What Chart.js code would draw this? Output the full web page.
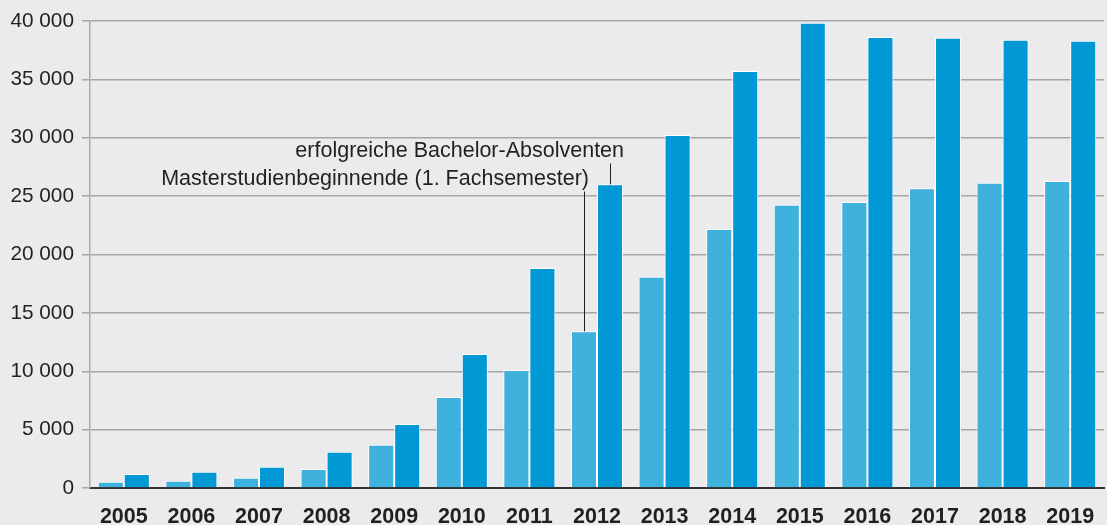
<!DOCTYPE html>
<html lang="de">
<head>
<meta charset="utf-8">
<script src="https://cdn.jsdelivr.net/npm/chart.js@4/dist/chart.umd.min.js"></script>
<style>
  html, body { margin: 0; padding: 0; background: #ebebee; }
  #wrap { width: 1107px; height: 525px; }
</style>
</head>
<body>
<div id="wrap"><canvas id="barChart"></canvas></div>
<script>
const years = ['2005', '2006', '2007', '2008', '2009', '2010', '2011', '2012', '2013', '2014', '2015', '2016', '2017', '2018', '2019'];
const masterStart = [540, 630, 880, 1630, 3700, 7800, 10100, 13420, 18100, 22180, 24270, 24500, 25670, 26150, 26300];
const bachelorGrads = [1200, 1400, 1830, 3110, 5480, 11480, 18840, 26010, 30240, 35720, 39860, 38630, 38570, 38400, 38310];
const yTicks = [0, 5000, 10000, 15000, 20000, 25000, 30000, 35000, 40000];

const labelMaster = 'Masterstudienbeginnende (1. Fachsemester)';
const labelBachelor = 'erfolgreiche Bachelor-Absolventen';

// fill the page grey behind the chart
const bgPlugin = {
    id: 'bg',
    beforeDraw(chart) {
        const ctx = chart.ctx;
        ctx.save();
        ctx.fillStyle = '#ebebee';
        ctx.fillRect(0, 0, chart.width, chart.height);
        ctx.restore();
    }
};

// leader lines from the two captions down to the 2012 bars
const calloutPlugin = {
    id: 'callout',
    afterDatasetsDraw(chart) {
        const ctx = chart.ctx;
        const y = chart.scales.y;
        const idx = years.indexOf('2012');
        const light = chart.getDatasetMeta(0).data[idx];
        const dark = chart.getDatasetMeta(1).data[idx];
        ctx.save();
        ctx.font = '21.5px "Liberation Sans", Arial, sans-serif';
        ctx.fillStyle = '#231f20';
        ctx.textAlign = 'right';
        ctx.textBaseline = 'alphabetic';
        ctx.fillText(labelBachelor, dark.x + 14, y.getPixelForValue(28350));
        ctx.fillText(labelMaster, light.x + 5, y.getPixelForValue(25950));
        ctx.strokeStyle = '#231f20';
        ctx.lineWidth = 1;
        ctx.beginPath();
        ctx.moveTo(Math.round(dark.x) + 0.5, y.getPixelForValue(27800));
        ctx.lineTo(Math.round(dark.x) + 0.5, dark.y);
        ctx.moveTo(Math.round(light.x) + 0.5, y.getPixelForValue(25400));
        ctx.lineTo(Math.round(light.x) + 0.5, light.y);
        ctx.stroke();
        ctx.restore();
    }
};

new Chart(document.getElementById('barChart'), {
    type: 'bar',
    data: {
        labels: years,
        datasets: [{
            label: labelMaster,
            data: masterStart,
            backgroundColor: '#3eb1dd',
            borderColor: '#ffffff',
            borderWidth: { top: 1, left: 1, right: 1, bottom: 0 },
            borderSkipped: 'bottom'
        }, {
            label: labelBachelor,
            data: bachelorGrads,
            backgroundColor: '#0099d5',
            borderColor: '#ffffff',
            borderWidth: { top: 1, left: 1, right: 1, bottom: 0 },
            borderSkipped: 'bottom'
        }]
    },
    options: {
        responsive: true,
        maintainAspectRatio: false,
        animation: false,
        categoryPercentage: 0.77,
        barPercentage: 1.0,
        layout: { padding: { top: 21, right: 3, left: 0, bottom: 0 } },
        scales: {
            x: {
                grid: { display: false, drawTicks: true, tickLength: 14 },
                border: { display: true, color: '#333333', width: 2 },
                ticks: {
                    color: '#231f20',
                    font: { family: '"Liberation Sans", Arial, sans-serif', size: 21.5, weight: 'bold' },
                    padding: 2,
                    maxRotation: 0,
                    autoSkip: false
                },
                afterFit(scale) { scale.height = 37; }
            },
            y: {
                min: 0,
                max: 40000,
                afterBuildTicks(scale) { scale.ticks = yTicks.map(v => ({ value: v })); },
                grid: { color: '#a6a6a6', lineWidth: 1.5, tickLength: 8 },
                border: { display: true, color: '#aaaaaa', width: 1.5 },
                ticks: {
                    color: '#231f20',
                    padding: 8,
                    font: { family: '"Liberation Sans", Arial, sans-serif', size: 20.8 },
                    callback: v => String(v).replace(/\B(?=(\d{3})+(?!\d))/g, ' ')
                },
                afterFit(scale) { scale.width = 90; }
            }
        },
        plugins: {
            legend: { display: false },
            tooltip: { enabled: false }
        }
    },
    plugins: [bgPlugin, calloutPlugin]
});
</script>
</body>
</html>
